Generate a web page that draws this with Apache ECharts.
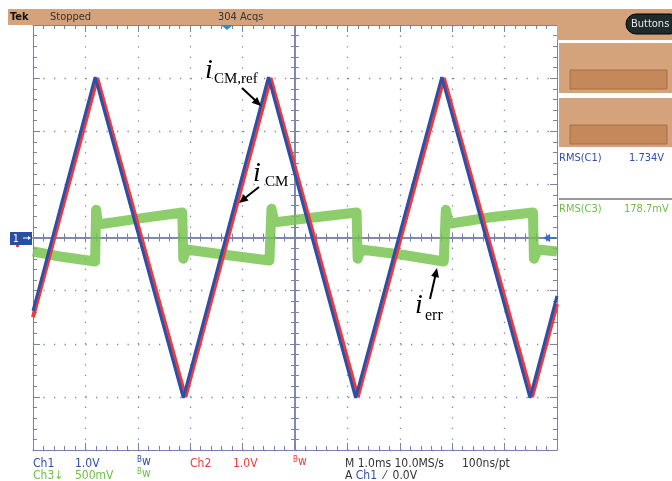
<!DOCTYPE html>
<html>
<head>
<meta charset="utf-8">
<script src="https://cdn.jsdelivr.net/npm/echarts@6/dist/echarts.min.js"></script>
<style>
  html, body { margin: 0; padding: 0; background: #fff; }
  #main { width: 672px; height: 481px; }
</style>
</head>
<body>
<div id="main"></div>
<script>
// time in ms (screen centre = 0), 1 ms/div
var ch1Time = [-5.0, -3.815, -2.132, -0.507, 1.157, 2.801, 4.484, 5.0]
var ch1Volts = [-1.38, 3.02, -3.02, 3.02, -3.02, 3.02, -3.02, -1.1]
var ch2Time = [-5.0, -3.775, -2.092, -0.467, 1.197, 2.841, 4.524, 5.0]
var ch2Volts = [-1.5, 3.0, -3.0, 3.0, -3.0, 3.0, -3.0, -1.25]
var ch3Time = [-5.0, -4.484, -3.815, -3.795, -3.757, -2.954, -2.151, -2.132, -2.075, -1.233, -0.488,
  -0.449, -0.392, 0.392, 1.176, 1.195, 1.252, 2.017, 2.839, 2.878, 2.935, 3.738, 4.541, 4.56, 4.637, 5.0]
var ch3Volts = [-0.132, -0.179, -0.226, 0.26, 0.123, 0.18, 0.236, -0.2, -0.113, -0.17, -0.217,
  0.27, 0.142, 0.19, 0.236, -0.2, -0.113, -0.16, -0.226, 0.26, 0.13, 0.19, 0.236, -0.2, -0.113, -0.132]
var voltsPerDiv = {ch1: 1.0, ch2: 1.0, ch3: 0.5}
var xTicks = [-5, 5, 1]
var yTicks = [-4, 4, 1]

var frameColor = '#7a82a8'
var dotColor = '#7f88ae'
var scopeFont = '"Liberation Sans Narrow", "DejaVu Sans Condensed", "Liberation Sans", sans-serif'
var blue = '#2e4ea8'
var red = '#ec3b3b'
var green = '#6cbf45'

function pairs (t, v, scale) {
  var out = []
  for (var i = 0; i < t.length; i++) {
    out.push([t[i], v[i] / scale])
  }
  return out
}

function xAxisDef (pos, opts) {
  return Object.assign({
    type: 'value', min: xTicks[0], max: xTicks[1], interval: xTicks[2], position: pos,
    axisLine: {show: true, onZero: false, lineStyle: {color: frameColor, width: 1}},
    axisTick: {show: true, inside: true, length: 7, lineStyle: {color: frameColor}},
    minorTick: {show: true, splitNumber: 5, length: 4, lineStyle: {color: frameColor}},
    axisLabel: {show: false},
    splitLine: {show: false}
  }, opts)
}

function yAxisDef (pos, opts) {
  return Object.assign({
    type: 'value', min: yTicks[0], max: yTicks[1], interval: yTicks[2], position: pos,
    axisLine: {show: true, onZero: false, lineStyle: {color: frameColor, width: 1}},
    axisTick: {show: true, inside: true, length: 7, lineStyle: {color: frameColor}},
    minorTick: {show: true, splitNumber: 5, length: 4, lineStyle: {color: frameColor}},
    axisLabel: {show: false},
    splitLine: {show: false}
  }, opts)
}

var centerLine = {show: true, onZero: true, onZeroAxisIndex: 0, lineStyle: {color: frameColor, width: 1.5}}

var chart = echarts.init(document.getElementById('main'))

chart.setOption({
  animation: false,
  grid: {left: 33, right: 115, top: 25, bottom: 31},
  xAxis: [
    xAxisDef('bottom', {splitLine: {show: true, lineStyle: {color: dotColor, width: 1.3, type: [1.3, 9.3]}}}),
    xAxisDef('top', {}),
    xAxisDef('bottom', {axisLine: centerLine, axisTick: {show: true, inside: true, length: 5, lineStyle: {color: frameColor}}}),
    xAxisDef('bottom', {axisLine: centerLine, axisTick: {show: true, inside: false, length: 5, lineStyle: {color: frameColor}}})
  ],
  yAxis: [
    yAxisDef('left', {splitLine: {show: true, lineStyle: {color: dotColor, width: 1.3, type: [1.3, 9.2]}}}),
    yAxisDef('right', {}),
    yAxisDef('left', {axisLine: centerLine, axisTick: {show: true, inside: true, length: 5, lineStyle: {color: frameColor}}}),
    yAxisDef('left', {axisLine: centerLine, axisTick: {show: true, inside: false, length: 5, lineStyle: {color: frameColor}}})
  ],
  series: [
    {
      name: 'Ch3', type: 'line', xAxisIndex: 0, yAxisIndex: 0, symbol: 'none',
      data: pairs(ch3Time, ch3Volts, voltsPerDiv.ch3),
      lineStyle: {color: '#74c24a', width: 10, opacity: 0.82, join: 'round', cap: 'butt'}
    },
    {
      name: 'Ch2', type: 'line', xAxisIndex: 0, yAxisIndex: 0, symbol: 'none',
      data: pairs(ch2Time, ch2Volts, voltsPerDiv.ch2),
      lineStyle: {color: red, width: 4}
    },
    {
      name: 'Ch1', type: 'line', xAxisIndex: 0, yAxisIndex: 0, symbol: 'none',
      data: pairs(ch1Time, ch1Volts, voltsPerDiv.ch1),
      lineStyle: {color: blue, width: 3}
    }
  ],
  graphic: [
    // top status bar and right side panel
    {type: 'rect', shape: {x: 8, y: 9, width: 664, height: 16}, style: {fill: '#d4a37c'}, z: 10},
    {type: 'rect', shape: {x: 557, y: 9, width: 115, height: 31}, style: {fill: '#d4a37c'}, z: 10},
    {type: 'rect', shape: {x: 559, y: 43, width: 113, height: 50}, style: {fill: '#d4a37c'}, z: 10},
    {type: 'rect', shape: {x: 570, y: 70, width: 97, height: 19}, style: {fill: '#c4885b', stroke: '#a86d45', lineWidth: 1}, z: 11},
    {type: 'rect', shape: {x: 559, y: 98, width: 113, height: 49}, style: {fill: '#d4a37c'}, z: 10},
    {type: 'rect', shape: {x: 570, y: 125, width: 97, height: 19}, style: {fill: '#c4885b', stroke: '#a86d45', lineWidth: 1}, z: 11},
    {type: 'rect', shape: {x: 626, y: 14, width: 54, height: 20, r: 10}, style: {fill: '#1f2b2b', stroke: '#000', lineWidth: 1}, z: 11},
    {type: 'text', x: 631, y: 24, style: {text: 'Buttons', fill: '#e8e8e8', font: '11px ' + scopeFont, verticalAlign: 'middle'}, z: 12},
    {type: 'text', x: 10, y: 17, style: {text: 'Tek', fill: '#111', font: 'bold 11px ' + scopeFont, verticalAlign: 'middle'}, z: 12},
    {type: 'text', x: 50, y: 17, style: {text: 'Stopped', fill: '#333', font: '11px ' + scopeFont, verticalAlign: 'middle'}, z: 12},
    {type: 'text', x: 218, y: 17, style: {text: '304 Acqs', fill: '#333', font: '11px ' + scopeFont, verticalAlign: 'middle'}, z: 12},
    {type: 'line', shape: {x1: 559, y1: 199, x2: 672, y2: 199}, style: {stroke: '#777', lineWidth: 1.5}, z: 10},
    {type: 'text', x: 559, y: 158, style: {text: 'RMS(C1)', fill: blue, font: '11px ' + scopeFont, verticalAlign: 'middle'}, z: 12},
    {type: 'text', x: 629, y: 158, style: {text: '1.734V', fill: blue, font: '11px ' + scopeFont, verticalAlign: 'middle'}, z: 12},
    {type: 'text', x: 559, y: 209, style: {text: 'RMS(C3)', fill: green, font: '11px ' + scopeFont, verticalAlign: 'middle'}, z: 12},
    {type: 'text', x: 624, y: 209, style: {text: '178.7mV', fill: green, font: '11px ' + scopeFont, verticalAlign: 'middle'}, z: 12},

    // markers
    {type: 'polygon', shape: {points: [[221, 25], [233, 25], [227, 30]]}, style: {fill: '#2f8ad8'}, z: 12},
    {type: 'rect', shape: {x: 10, y: 232, width: 22, height: 13}, style: {fill: '#2a4f9e'}, z: 12},
    {type: 'text', x: 13, y: 239, style: {text: '1', fill: '#fff', font: '10px ' + scopeFont, verticalAlign: 'middle'}, z: 13},
    {type: 'line', shape: {x1: 23, y1: 238, x2: 30, y2: 238}, style: {stroke: '#fff', lineWidth: 1}, z: 13},
    {type: 'polygon', shape: {points: [[31, 238], [28, 236], [28, 240]]}, style: {fill: '#fff'}, z: 13},
    {type: 'rect', shape: {x: 16, y: 245, width: 3, height: 2}, style: {fill: red}, z: 12},
    {type: 'line', shape: {x1: 548, y1: 238, x2: 556, y2: 238}, style: {stroke: '#2f6fd0', lineWidth: 1.5}, z: 12},
    {type: 'polygon', shape: {points: [[543, 238], [550, 234], [550, 242]]}, style: {fill: '#2f6fd0'}, z: 12},

    // bottom readout
    {type: 'text', x: 33, y: 464, style: {text: 'Ch1', fill: blue, font: '12px ' + scopeFont, verticalAlign: 'middle'}, z: 12},
    {type: 'text', x: 75, y: 464, style: {text: '1.0V', fill: blue, font: '12px ' + scopeFont, verticalAlign: 'middle'}, z: 12},
    {type: 'text', x: 137, y: 462, style: {text: '{b|B}{w|w}', rich: {b: {fontSize: 8, fill: blue, fontFamily: scopeFont, verticalAlign: 'top'}, w: {fontSize: 12, fill: blue, fontFamily: scopeFont}}, verticalAlign: 'middle'}, z: 12},
    {type: 'text', x: 190, y: 464, style: {text: 'Ch2', fill: red, font: '12px ' + scopeFont, verticalAlign: 'middle'}, z: 12},
    {type: 'text', x: 233, y: 464, style: {text: '1.0V', fill: red, font: '12px ' + scopeFont, verticalAlign: 'middle'}, z: 12},
    {type: 'text', x: 293, y: 462, style: {text: '{b|B}{w|w}', rich: {b: {fontSize: 8, fill: red, fontFamily: scopeFont, verticalAlign: 'top'}, w: {fontSize: 12, fill: red, fontFamily: scopeFont}}, verticalAlign: 'middle'}, z: 12},
    {type: 'text', x: 345, y: 464, style: {text: 'M 1.0ms 10.0MS/s', fill: '#333', font: '12px ' + scopeFont, verticalAlign: 'middle'}, z: 12},
    {type: 'text', x: 462, y: 464, style: {text: '100ns/pt', fill: '#333', font: '12px ' + scopeFont, verticalAlign: 'middle'}, z: 12},
    {type: 'text', x: 33, y: 476, style: {text: 'Ch3↓', fill: green, font: '12px ' + scopeFont, verticalAlign: 'middle'}, z: 12},
    {type: 'text', x: 75, y: 476, style: {text: '500mV', fill: green, font: '12px ' + scopeFont, verticalAlign: 'middle'}, z: 12},
    {type: 'text', x: 137, y: 474, style: {text: '{b|B}{w|w}', rich: {b: {fontSize: 8, fill: green, fontFamily: scopeFont, verticalAlign: 'top'}, w: {fontSize: 12, fill: green, fontFamily: scopeFont}}, verticalAlign: 'middle'}, z: 12},
    {type: 'text', x: 345, y: 476, style: {text: '{k|A }{c|Ch1}{k|  ⁄  0.0V}', rich: {k: {fontSize: 12, fill: '#333', fontFamily: scopeFont}, c: {fontSize: 12, fill: blue, fontFamily: scopeFont}}, verticalAlign: 'middle'}, z: 12},

    // annotations
    {type: 'text', x: 205, y: 57, style: {text: 'i', fill: '#000', font: 'italic 28px "Liberation Serif", "DejaVu Serif", serif'}, z: 14},
    {type: 'text', x: 214, y: 72, style: {text: 'CM,ref', fill: '#000', font: '15px "Liberation Serif", "DejaVu Serif", serif'}, z: 14},
    {type: 'line', shape: {x1: 242, y1: 88, x2: 256, y2: 101}, style: {stroke: '#000', lineWidth: 2}, z: 14},
    {type: 'polygon', shape: {points: [[261, 106], [251.7, 102.7], [257.3, 96.9]]}, style: {fill: '#000'}, z: 14},
    {type: 'text', x: 253, y: 160, style: {text: 'i', fill: '#000', font: 'italic 28px "Liberation Serif", "DejaVu Serif", serif'}, z: 14},
    {type: 'text', x: 265, y: 175, style: {text: 'CM', fill: '#000', font: '15px "Liberation Serif", "DejaVu Serif", serif'}, z: 14},
    {type: 'line', shape: {x1: 259, y1: 187, x2: 245, y2: 198}, style: {stroke: '#000', lineWidth: 2}, z: 14},
    {type: 'polygon', shape: {points: [[239, 203], [243.5, 194.3], [248.5, 200.5]]}, style: {fill: '#000'}, z: 14},
    {type: 'text', x: 415, y: 292, style: {text: 'i', fill: '#000', font: 'italic 28px "Liberation Serif", "DejaVu Serif", serif'}, z: 14},
    {type: 'text', x: 425, y: 308, style: {text: 'err', fill: '#000', font: '16px "Liberation Serif", "DejaVu Serif", serif'}, z: 14},
    {type: 'line', shape: {x1: 430, y1: 299, x2: 435.5, y2: 275}, style: {stroke: '#000', lineWidth: 2}, z: 14},
    {type: 'polygon', shape: {points: [[437, 268], [438.9, 277.7], [431.1, 275.9]]}, style: {fill: '#000'}, z: 14}
  ]
})
</script>
</body>
</html>
